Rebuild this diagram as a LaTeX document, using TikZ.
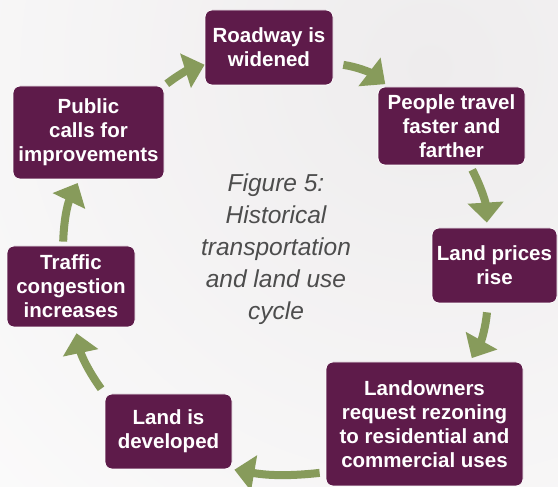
\documentclass[tikz,border=0pt]{standalone}
\usepackage{fontspec}
\setmainfont{Liberation Sans}
\usetikzlibrary{arrows.meta}
\definecolor{plum}{HTML}{5E1B4A}
\definecolor{leafgreen}{HTML}{879B5B}
\definecolor{captiongray}{HTML}{4D4D4D}
\definecolor{backgray}{HTML}{EEECED}

\begin{document}
\begin{tikzpicture}[x=1pt,y=1pt,
  stage/.style={rectangle, rounded corners=7pt, fill=plum, draw=white, line width=0.8pt,
    text=white, align=center, inner sep=0pt, font=\fontsize{20.5}{24}\selectfont\bfseries},
  cyclearrow/.style={line width=8pt, draw=leafgreen, -{Triangle[length=20pt,width=35pt]}}]
  \useasboundingbox (0,0) rectangle (558,487);
  \shade[inner color=backgray, outer color=white] (430,420) circle (820);

  \node[stage, minimum width=128pt, minimum height=75pt] (road) at (269,439.5) {Roadway is\\widened};
  \node[stage, minimum width=147pt, minimum height=78pt] (people) at (451.5,361) {People travel\\faster and\\farther};
  \node[stage, minimum width=125pt, minimum height=75pt] (prices) at (494.5,221.5) {Land prices\\rise};
  \node[stage, minimum width=197pt, minimum height=124pt] (owners) at (424.5,63) {Landowners\\request rezoning\\to residential and\\commercial uses};
  \node[stage, minimum width=127pt, minimum height=75pt] (developed) at (168.5,55.5) {Land is\\developed};
  \node[stage, minimum width=128pt, minimum height=81pt] (traffic) at (71,200.5) {Traffic\\congestion\\increases};
  \node[stage, minimum width=151pt, minimum height=93pt] (public) at (88.5,354.5) {Public\\calls for\\improvements};

  \node[text=captiongray, align=center, font=\fontsize{24.5}{32}\selectfont\itshape] (caption) at (276,238)
    {Figure 5:\\Historical\\transportation\\and land use\\cycle};

  \draw[cyclearrow, shorten <=3pt] (public.north east) to[bend left=10] (road.195);
  \draw[cyclearrow, shorten <=10pt, shorten >=4pt] (road.-14) to[bend left=15] (people.148);
  \draw[cyclearrow, shorten <=5pt, shorten >=5pt] (people.-65) to[bend left=12] (prices.101);
  \draw[cyclearrow, shorten <=9pt, shorten >=4pt] (prices.-100) to[bend left=12] (owners.54);
  \draw[cyclearrow, shorten <=6pt, shorten >=2pt] (owners.206) to[bend left=8] (developed.south east);
  \draw[cyclearrow, shorten <=6pt, shorten >=6pt] (developed.north west) to[bend left=12] (traffic.-84);
  \draw[cyclearrow, shorten <=4pt, shorten >=4pt] (traffic.101) to[bend left=12] (public.-101);

\end{tikzpicture}
\end{document}
